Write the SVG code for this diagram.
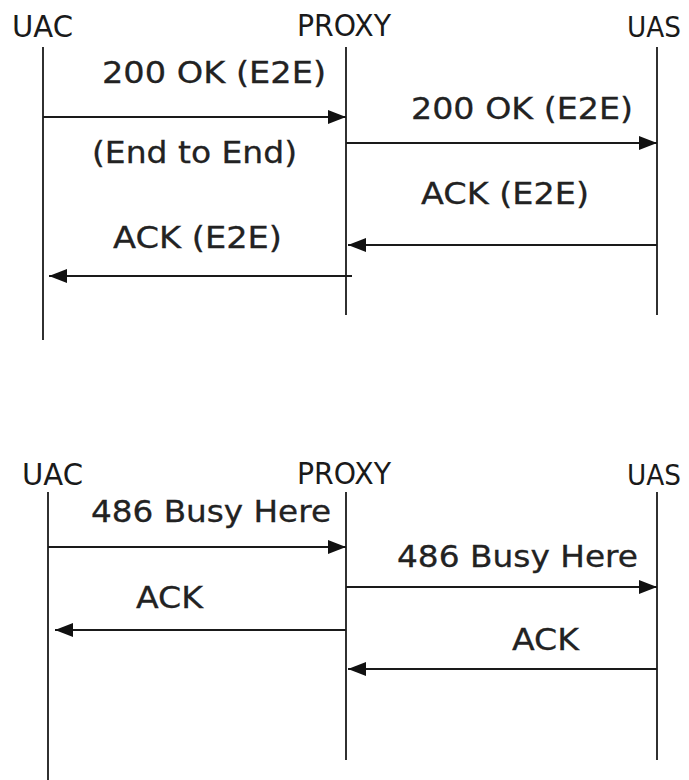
<svg xmlns="http://www.w3.org/2000/svg" width="689" height="780" viewBox="0 0 689 780">
<defs>
<style>
.life{stroke:#1a1a1a;stroke-width:1.8;fill:none}
.msg{stroke:#1a1a1a;stroke-width:1.8;fill:none;marker-end:url(#ah)}
.hdr{font-family:"DejaVu Sans",Verdana,sans-serif;font-size:31px;fill:#1a1a1a}
.edge{font-size:29px}
.lbl{font-family:"DejaVu Sans",Verdana,sans-serif;font-size:30px;fill:#222;stroke:#222;stroke-width:0.3}
</style>
<marker id="ah" viewBox="0 0 18 14" refX="18" refY="7" markerWidth="18" markerHeight="14" markerUnits="userSpaceOnUse" orient="auto">
<path d="M0,0 L18,7 L0,14 z" fill="#111"/>
</marker>
</defs>
<rect width="689" height="780" fill="#fff"/>

<g id="top-uac"><text class="hdr" x="12" y="37" textLength="61" lengthAdjust="spacingAndGlyphs">UAC</text><line class="life" x1="43" y1="47" x2="43" y2="340"/></g>
<g id="top-proxy"><text class="hdr" x="297" y="36" textLength="94" lengthAdjust="spacingAndGlyphs">PROXY</text><line class="life" x1="346" y1="47" x2="346" y2="315"/></g>
<g id="top-uas"><text class="hdr edge" x="627" y="37" textLength="54" lengthAdjust="spacingAndGlyphs">UAS</text><line class="life" x1="657" y1="47" x2="657" y2="315"/></g>

<g id="bot-uac"><text class="hdr" x="22" y="485" textLength="61" lengthAdjust="spacingAndGlyphs">UAC</text><line class="life" x1="48" y1="492" x2="48" y2="780"/></g>
<g id="bot-proxy"><text class="hdr" x="297" y="484" textLength="94" lengthAdjust="spacingAndGlyphs">PROXY</text><line class="life" x1="346" y1="492" x2="346" y2="760"/></g>
<g id="bot-uas"><text class="hdr edge" x="627" y="485" textLength="54" lengthAdjust="spacingAndGlyphs">UAS</text><line class="life" x1="657" y1="492" x2="657" y2="760"/></g>

<g id="connectors">
<line class="msg" x1="43" y1="117" x2="346" y2="117"/>
<line class="msg" x1="346" y1="143" x2="657" y2="143"/>
<line class="msg" x1="657" y1="245" x2="348" y2="245"/>
<line class="msg" x1="352" y1="276" x2="49" y2="276"/>
<line class="msg" x1="48" y1="547" x2="346" y2="547"/>
<line class="msg" x1="346" y1="587" x2="657" y2="587"/>
<line class="msg" x1="346" y1="630" x2="55" y2="630"/>
<line class="msg" x1="657" y1="669" x2="348" y2="669"/>
</g>

<g id="labels">
<text class="lbl" x="102" y="83" textLength="224" lengthAdjust="spacingAndGlyphs">200 OK (E2E)</text>
<text class="lbl" x="92" y="163" textLength="205" lengthAdjust="spacingAndGlyphs">(End to End)</text>
<text class="lbl" x="411" y="119" textLength="222" lengthAdjust="spacingAndGlyphs">200 OK (E2E)</text>
<text class="lbl" x="421" y="204" textLength="168" lengthAdjust="spacingAndGlyphs">ACK (E2E)</text>
<text class="lbl" x="113" y="248" textLength="169" lengthAdjust="spacingAndGlyphs">ACK (E2E)</text>
<text class="lbl" x="91" y="522" textLength="240" lengthAdjust="spacingAndGlyphs">486 Busy Here</text>
<text class="lbl" x="397" y="567" textLength="241" lengthAdjust="spacingAndGlyphs">486 Busy Here</text>
<text class="lbl" x="136" y="608" textLength="67" lengthAdjust="spacingAndGlyphs">ACK</text>
<text class="lbl" x="512" y="650" textLength="67" lengthAdjust="spacingAndGlyphs">ACK</text>
</g>
</svg>
